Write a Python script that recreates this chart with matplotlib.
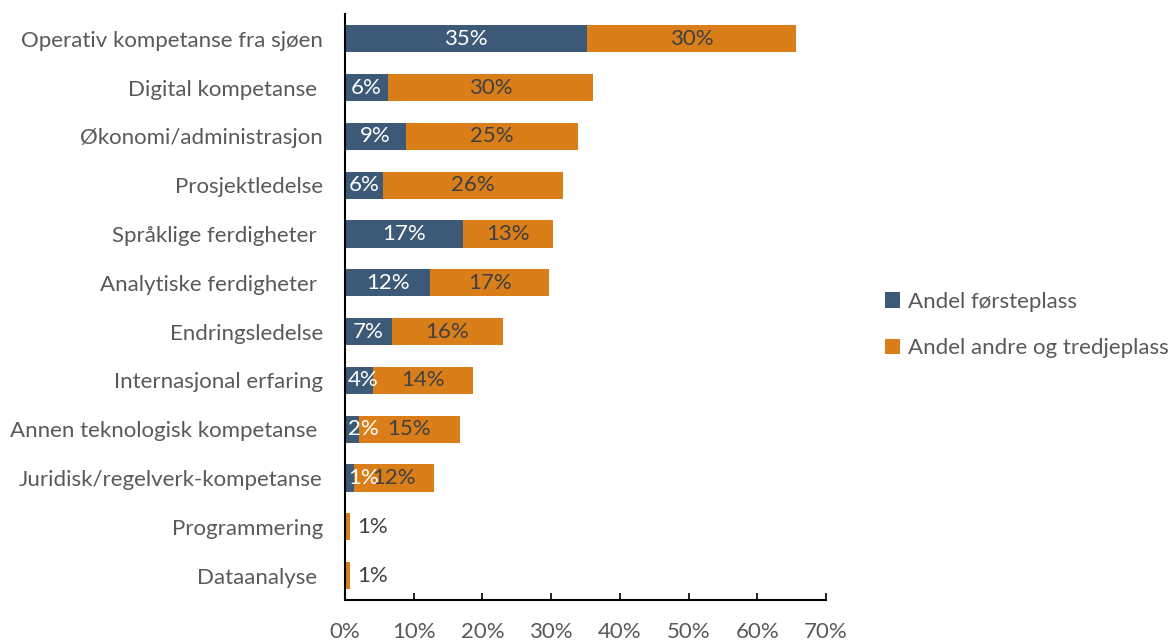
import matplotlib.pyplot as plt
import numpy as np

plt.rcParams['font.family'] = ['Lato', 'DejaVu Sans']

categories = ['Operativ kompetanse fra sjøen', 'Digital kompetanse ', 'Økonomi/administrasjon',
              'Prosjektledelse', 'Språklige ferdigheter ', 'Analytiske ferdigheter ',
              'Endringsledelse', 'Internasjonal erfaring', 'Annen teknologisk kompetanse ',
              'Juridisk/regelverk-kompetanse', 'Programmering', 'Dataanalyse ']
forsteplass = [0.352, 0.063, 0.089, 0.055, 0.172, 0.124, 0.068, 0.041, 0.020, 0.013, 0.0, 0.0]
andre_tredje = [0.304, 0.298, 0.250, 0.262, 0.131, 0.173, 0.162, 0.145, 0.147, 0.117, 0.007, 0.007]
xticks = [0, 0.1, 0.2, 0.3, 0.4, 0.5, 0.6, 0.7]

blue = '#3c5a78'
orange = '#d97e19'
grey = '#595959'
fs = 16

fig = plt.figure(figsize=(11.72, 6.4), dpi=100)
ax = fig.add_axes([0.2944, 0.0625, 0.4104, 0.915])

y = np.arange(len(categories))
ax.barh(y, forsteplass, height=0.56, color=blue, label='Andel førsteplass')
ax.barh(y, andre_tredje, left=forsteplass, height=0.56, color=orange,
        label='Andel andre og tredjeplass')

for i in range(len(categories)):
    a = forsteplass[i]
    b = andre_tredje[i]
    if a > 0:
        ax.text(max(a / 2, 0.027), i, f'{a:.0%}', ha='center', va='center',
                color='white', fontsize=fs)
        ax.text(a + b / 2, i, f'{b:.0%}', ha='center', va='center',
                color='#404040', fontsize=fs)
    else:
        # tiny bars get their label just outside the bar end
        ax.annotate(f'{b:.0%}', (a + b, i), xytext=(5, 0), textcoords='offset points',
                    ha='left', va='center', color='#404040', fontsize=fs)

ax.set_ylim(len(categories) - 0.5, -0.5)
ax.set_xlim(0, 0.7)
ax.set_yticks(y)
ax.set_yticklabels(categories, fontsize=fs, color=grey)
ax.set_xticks(xticks)
ax.set_xticklabels([f'{t:.0%}' for t in xticks], fontsize=fs, color=grey)
ax.tick_params(axis='y', length=0, pad=16)
ax.tick_params(axis='x', direction='in', length=5, width=1.2, pad=16)

for s in ['top', 'right']:
    ax.spines[s].set_visible(False)
ax.spines['left'].set_linewidth(1.5)
ax.spines['bottom'].set_linewidth(1.5)

leg = fig.legend(loc='center left', bbox_to_anchor=(0.738, 0.492), frameon=False,
                 fontsize=fs, handlelength=0.7, handleheight=0.7, handletextpad=0.35,
                 labelspacing=1.2)
for t in leg.get_texts():
    t.set_color(grey)

plt.savefig('out.png', dpi=100)
